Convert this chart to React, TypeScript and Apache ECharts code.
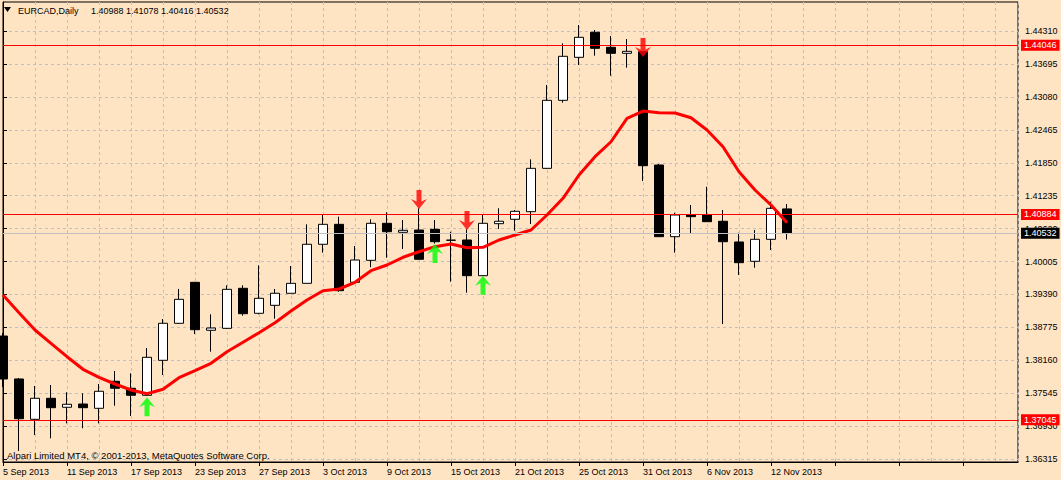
import React, { useEffect, useRef } from 'react';
import * as echarts from 'echarts';

const dates = [
  '5 Sep 2013', '6 Sep 2013', '9 Sep 2013', '10 Sep 2013', '11 Sep 2013', '12 Sep 2013', '13 Sep 2013', '16 Sep 2013',
  '17 Sep 2013', '18 Sep 2013', '19 Sep 2013', '20 Sep 2013', '23 Sep 2013', '24 Sep 2013', '25 Sep 2013', '26 Sep 2013',
  '27 Sep 2013', '30 Sep 2013', '1 Oct 2013', '2 Oct 2013', '3 Oct 2013', '4 Oct 2013', '7 Oct 2013', '8 Oct 2013',
  '9 Oct 2013', '10 Oct 2013', '11 Oct 2013', '14 Oct 2013', '15 Oct 2013', '16 Oct 2013', '17 Oct 2013', '18 Oct 2013',
  '21 Oct 2013', '22 Oct 2013', '23 Oct 2013', '24 Oct 2013', '25 Oct 2013', '28 Oct 2013', '29 Oct 2013', '30 Oct 2013',
  '31 Oct 2013', '1 Nov 2013', '4 Nov 2013', '5 Nov 2013', '6 Nov 2013', '7 Nov 2013', '8 Nov 2013', '11 Nov 2013',
  '12 Nov 2013', '13 Nov 2013',
];

const opens = [
  1.38612, 1.37809, 1.37055, 1.37448, 1.37280, 1.37341, 1.37261, 1.37766, 1.37635, 1.37504,
  1.38158, 1.38850, 1.39616, 1.38719, 1.38756, 1.39504, 1.39037, 1.39186, 1.39411, 1.39597,
  1.40327, 1.40700, 1.39616, 1.40027, 1.40719, 1.40551, 1.40594, 1.40607, 1.40401, 1.40407,
  1.39740, 1.40712, 1.40794, 1.40936, 1.41747, 1.43018, 1.43822, 1.44290, 1.44009, 1.43897,
  1.43927, 1.41809, 1.40469, 1.40874, 1.40874, 1.40757, 1.40370, 1.40009, 1.40420, 1.40988,
];
const closes = [
  1.37809, 1.37066, 1.37448, 1.37272, 1.37336, 1.37272, 1.37579, 1.37635, 1.37504, 1.38214,
  1.38850, 1.39298, 1.38730, 1.38762, 1.39485, 1.39029, 1.39317, 1.39411, 1.39597, 1.40327,
  1.40700, 1.39460, 1.40033, 1.40719, 1.40562, 1.40588, 1.40046, 1.40375, 1.40405, 1.39740,
  1.40719, 1.40757, 1.40943, 1.41747, 1.43018, 1.43841, 1.44196, 1.43990, 1.43897, 1.43934,
  1.41796, 1.40469, 1.40874, 1.40843, 1.40749, 1.40375, 1.39983, 1.40420, 1.40999, 1.40532,
];
const lows = [
  1.37659, 1.36463, 1.36762, 1.36700, 1.36980, 1.36887, 1.36980, 1.37309, 1.37117, 1.37491,
  1.37883, 1.38837, 1.38650, 1.38319, 1.38743, 1.38992, 1.39018, 1.38936, 1.39411, 1.39597,
  1.40170, 1.39440, 1.39597, 1.39897, 1.40076, 1.40239, 1.40040, 1.40340, 1.39627, 1.39422,
  1.39735, 1.40613, 1.40581, 1.40706, 1.41740, 1.42974, 1.43678, 1.43852, 1.43478, 1.43628,
  1.41510, 1.40465, 1.40170, 1.40519, 1.40745, 1.38837, 1.39753, 1.39889, 1.40220, 1.40416,
];
const highs = [
  1.38668, 1.37827, 1.37678, 1.37696, 1.37560, 1.37541, 1.37715, 1.37958, 1.37915, 1.38388,
  1.38930, 1.39492, 1.39622, 1.39018, 1.39560, 1.39560, 1.39934, 1.39491, 1.39921, 1.40700,
  1.40874, 1.40843, 1.40295, 1.40794, 1.40925, 1.40781, 1.41000, 1.40780, 1.40562, 1.40607,
  1.40888, 1.41000, 1.40968, 1.41915, 1.43304, 1.44084, 1.44426, 1.44333, 1.44220, 1.44164,
  1.43940, 1.41828, 1.40917, 1.41061, 1.41403, 1.40968, 1.40543, 1.40594, 1.41123, 1.41078,
];

const maValues = [
  1.39379, 1.39048, 1.38725, 1.38476, 1.38225, 1.37990, 1.37840, 1.37715, 1.37603, 1.37534,
  1.37616, 1.37833, 1.37964, 1.38102, 1.38319, 1.38495, 1.38674, 1.38861, 1.39080, 1.39285,
  1.39459, 1.39491, 1.39616, 1.39833, 1.39940, 1.40084, 1.40188, 1.40282, 1.40332, 1.40263,
  1.40271, 1.40407, 1.40500, 1.40594, 1.40874, 1.41186, 1.41622, 1.41964, 1.42244, 1.42682,
  1.42818, 1.42787, 1.42781, 1.42693, 1.42463, 1.42151, 1.41684, 1.41342, 1.41061, 1.40730,
];

const yTicks = [
  1.36315, 1.36930, 1.37545, 1.38160, 1.38775, 1.39390, 1.40005,
  1.40620, 1.41235, 1.41850, 1.42465, 1.43080, 1.43695, 1.44310,
];
const levelLines = [1.44046, 1.40884, 1.37045];
const bidPrice = 1.40532;

const upArrowIdx = [9, 27, 30];
const upArrowPrice = [1.37466, 1.40332, 1.39740];
const downArrowIdx = [26, 29, 40];
const downArrowPrice = [1.40986, 1.40594, 1.43828];

const titleSymbol = 'EURCAD,Daily';
const titleOHLC = '1.40988 1.41078 1.40416 1.40532';
const copyright = 'Alpari Limited MT4, \u00a9 2001-2013, MetaQuotes Software Corp.';

const FONT = '"Liberation Sans", Arial, sans-serif';
const BG = '#FFE4C4';
const GRID = '#c0c0c4';

const Y_MIN = 1.36257;
const Y_MAX = 1.44856;
const X_MIN = 0;
const X_MAX = 63.4375;

const UP_ARROW = 'path://M8,0 L16,10 L10.5,7.5 L10.5,19 L5.5,19 L5.5,7.5 L0,10 Z';
const DOWN_ARROW = 'path://M8,19 L16,9 L10.5,11.5 L10.5,0 L5.5,0 L5.5,11.5 L0,9 Z';

export default function App() {
  const ref = useRef<HTMLDivElement>(null);

  useEffect(() => {
    if (!ref.current) return;
    const chart = echarts.init(ref.current, null, { renderer: 'svg' });

    const candleData = opens.map((o, i) => [i, o, closes[i], lows[i], highs[i]]);
    const maData = maValues.map((v, i) => [i, v]);
    const upData = upArrowIdx.map((k, i) => [k, upArrowPrice[i]]);
    const downData = downArrowIdx.map((k, i) => [k, downArrowPrice[i]]);

    const boxLabel = (bg: string) => ({
      show: true,
      position: 'end',
      distance: 3,
      formatter: (p: any) => Number(p.value).toFixed(5),
      backgroundColor: bg,
      color: '#ffffff',
      fontSize: 9,
      fontFamily: FONT,
      lineHeight: 9,
      padding: [1, 3, 1, 3],
    });

    const option: any = {
      animation: false,
      backgroundColor: BG,
      grid: {
        left: 3,
        right: 43,
        top: 2,
        bottom: 18,
        show: true,
        borderColor: '#000000',
        borderWidth: 1,
        backgroundColor: 'transparent',
        containLabel: false,
        outerBoundsMode: 'none',
      },
      xAxis: [
        {
          type: 'value',
          min: X_MIN,
          max: X_MAX,
          interval: 2,
          position: 'bottom',
          axisLine: { show: true, lineStyle: { color: '#000000', width: 1 } },
          axisTick: { show: false },
          axisLabel: { show: false },
          splitLine: { show: true, lineStyle: { color: GRID, type: [3, 3], width: 1 } },
        },
        {
          type: 'value',
          min: X_MIN,
          max: X_MAX,
          interval: 4,
          position: 'bottom',
          axisLine: { show: false },
          axisTick: { show: true, length: 4, lineStyle: { color: '#000000' } },
          axisLabel: {
            show: true,
            align: 'left',
            margin: 5,
            color: '#000000',
            fontSize: 9,
            fontFamily: FONT,
            showMaxLabel: false,
            formatter: (v: number) => {
              const i = Math.round(v);
              return Math.abs(v - i) < 1e-6 && i % 4 === 0 && i < dates.length ? dates[i] : '';
            },
          },
          splitLine: { show: false },
        },
      ],
      yAxis: {
        type: 'value',
        position: 'right',
        min: Y_MIN,
        max: Y_MAX,
        axisLine: { show: true, lineStyle: { color: '#000000', width: 1 } },
        axisTick: { show: true, length: 4, lineStyle: { color: '#000000' }, customValues: yTicks },
        axisLabel: {
          show: true,
          customValues: yTicks,
          margin: 7,
          color: '#000000',
          fontSize: 9,
          fontFamily: FONT,
          formatter: (v: number) => v.toFixed(5),
        },
        splitLine: { show: true, lineStyle: { color: GRID, type: [3, 3], width: 1 } },
      },
      series: [
        {
          type: 'candlestick',
          xAxisIndex: 0,
          data: candleData,
          barWidth: 10,
          z: 2,
          itemStyle: {
            color: '#ffffff',
            color0: '#000000',
            borderColor: '#000000',
            borderColor0: '#000000',
            borderWidth: 1,
          },
        },
        {
          type: 'line',
          xAxisIndex: 0,
          data: maData,
          showSymbol: false,
          symbol: 'none',
          z: 3,
          lineStyle: { color: '#ff0000', width: 3 },
          markLine: {
            silent: true,
            symbol: ['none', 'none'],
            precision: 5,
            animation: false,
            data: [
              ...levelLines.map((v) => ({
                yAxis: v,
                lineStyle: { color: '#ff0000', width: 1, type: 'solid' },
                label: boxLabel('#ff0000'),
              })),
              {
                yAxis: bidPrice,
                lineStyle: { color: '#c0c0c0', width: 1, type: 'solid' },
                label: boxLabel('#000000'),
              },
            ],
          },
        },
        {
          type: 'scatter',
          xAxisIndex: 0,
          data: upData,
          symbol: UP_ARROW,
          symbolSize: [16, 19],
          symbolOffset: [0, 9.5],
          itemStyle: { color: '#00ff00' },
          z: 5,
        },
        {
          type: 'scatter',
          xAxisIndex: 0,
          data: downData,
          symbol: DOWN_ARROW,
          symbolSize: [16, 19],
          symbolOffset: [0, -9.5],
          itemStyle: { color: '#ff0000' },
          z: 5,
        },
      ],
      graphic: [
        {
          type: 'polygon',
          shape: { points: [[4, 7], [11, 7], [7.5, 12]] },
          style: { fill: '#000000' },
          z: 10,
        },
        {
          type: 'text',
          x: 18,
          y: 10.5,
          style: {
            text: titleSymbol,
            fill: '#000000',
            fontSize: 9,
            fontFamily: FONT,
            verticalAlign: 'middle',
            align: 'left',
          },
          z: 10,
        },
        {
          type: 'text',
          x: 91,
          y: 10.5,
          style: {
            text: titleOHLC,
            fill: '#000000',
            fontSize: 9,
            fontFamily: FONT,
            verticalAlign: 'middle',
            align: 'left',
          },
          z: 10,
        },
        {
          type: 'text',
          x: 7,
          y: 455,
          style: {
            text: copyright,
            fill: '#000000',
            fontSize: 9.5,
            fontFamily: FONT,
            verticalAlign: 'middle',
            align: 'left',
          },
          z: 10,
        },
      ],
    };

    chart.setOption(option);
    return () => chart.dispose();
  }, []);

  return (
    <div
      ref={ref}
      style={{ position: 'absolute', left: 0, top: 0, width: 1061, height: 480, background: BG }}
    />
  );
}
